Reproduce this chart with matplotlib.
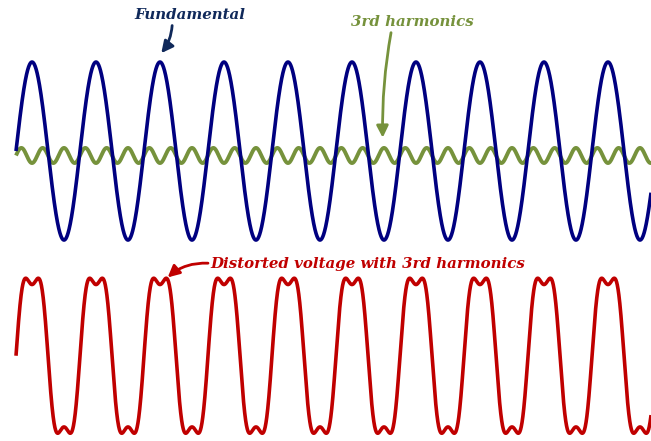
import numpy as np
import matplotlib
matplotlib.use('Agg')
import matplotlib.pyplot as plt

# signal parameters (x in cycles of the fundamental)
n_cycles = 10.0
fund_amp = 1.0
harm_order = 3
harm_amp_drawn = 0.085      # green trace as drawn
harm_amp_in_sum = 0.2       # share of 3rd harmonic in the red trace
labels = ['Fundamental', '3rd harmonics', 'Distorted voltage with 3rd harmonics']
colors = ['#000080', '#76923C', '#C00000']
text_colors = ['#10295A', '#76923C', '#C00000']

# layout (offsets in units of the fundamental amplitude)
top_offset = 0.0
harm_offset = -0.05
bottom_offset = -2.30

t = np.linspace(0, n_cycles, 4000)
fundamental = fund_amp * np.sin(2 * np.pi * t)
harmonic = harm_amp_drawn * np.sin(2 * np.pi * harm_order * t)
distorted = fund_amp * (np.sin(2 * np.pi * t) + harm_amp_in_sum * np.sin(2 * np.pi * harm_order * t))

fig = plt.figure(figsize=(6.51, 4.41), dpi=100)
ax = fig.add_axes([0, 0, 1, 1])
ax.set_xlim(-0.25, 9.922)
ax.set_ylim(-3.258, 1.697)
ax.axis('off')

ax.plot(t, harmonic + harm_offset, color=colors[1], lw=2.8, solid_capstyle='butt', zorder=2)
ax.plot(t, fundamental + top_offset, color=colors[0], lw=2.6, solid_capstyle='butt', zorder=3)
ax.plot(t, distorted + bottom_offset, color=colors[2], lw=2.6, solid_capstyle='butt', zorder=3)

font = dict(family='DejaVu Serif', weight='bold', style='italic', fontsize=10.8)

# labels + arrows
ax.text(2.72, 1.53, labels[0], color=text_colors[0], ha='center', va='center', **font)
ax.annotate('', xy=(2.27, 1.10), xytext=(2.44, 1.41),
            arrowprops=dict(arrowstyle='-|>,head_length=0.7,head_width=0.35', color=text_colors[0],
                            lw=2, connectionstyle='arc3,rad=-0.15', shrinkA=0, shrinkB=0))

ax.text(6.19, 1.45, labels[1], color=text_colors[1], ha='center', va='center', **font)
ax.annotate('', xy=(5.73, 0.15), xytext=(5.86, 1.33),
            arrowprops=dict(arrowstyle='-|>,head_length=0.7,head_width=0.35', color=text_colors[1],
                            lw=2, connectionstyle='arc3,rad=0.05', shrinkA=0, shrinkB=0))

ax.text(3.03, -1.27, labels[2], color=text_colors[2], ha='left', va='center', **font)
ax.annotate('', xy=(2.37, -1.42), xytext=(3.0, -1.26),
            arrowprops=dict(arrowstyle='-|>,head_length=0.7,head_width=0.35', color=text_colors[2],
                            lw=2, connectionstyle='arc3,rad=0.2', shrinkA=0, shrinkB=0))

fig.savefig('out.png', dpi=100)
